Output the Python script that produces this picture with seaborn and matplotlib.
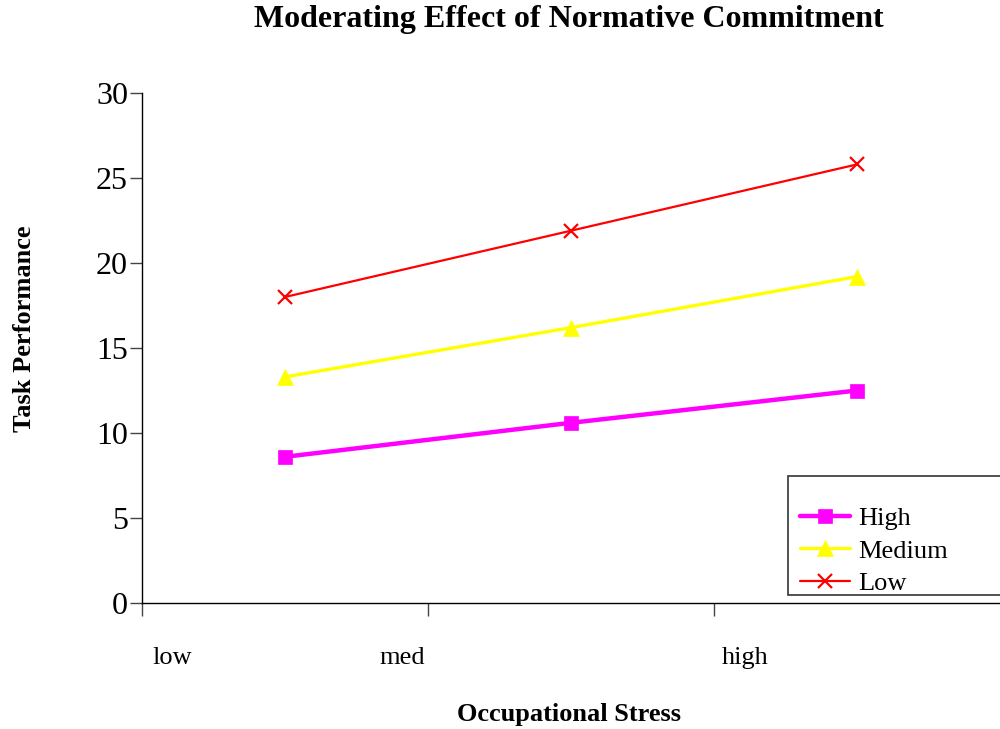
import matplotlib
matplotlib.use("Agg")
import matplotlib.pyplot as plt
from matplotlib.patches import Rectangle
import seaborn as sns
import pandas as pd

# ---- data ----
stress_levels = ["low", "med", "high"]
series_names = ["High", "Medium", "Low"]
high_vals = [8.6, 10.6, 12.5]
medium_vals = [13.3, 16.2, 19.2]
low_vals = [18.0, 21.9, 25.8]
y_ticks = [0, 5, 10, 15, 20, 25, 30]

rows = []
for name, vals in zip(series_names, [high_vals, medium_vals, low_vals]):
    for i, v in enumerate(vals):
        rows.append({"pos": i, "Stress": stress_levels[i], "Commitment": name, "Task Performance": v})
df = pd.DataFrame(rows)

sns.set_theme(style="white")
plt.rcParams["font.family"] = ["Liberation Serif", "DejaVu Serif"]
plt.rcParams["text.color"] = "black"
plt.rcParams["xtick.color"] = "#444444"
plt.rcParams["ytick.color"] = "#444444"
plt.rcParams["xtick.labelcolor"] = "black"
plt.rcParams["ytick.labelcolor"] = "black"

fig = plt.figure(figsize=(10, 7.29), dpi=100)
ax = fig.add_axes([0.142, 1 - 603 / 729, 0.858, (603 - 93) / 729])

colors = {"High": "#FF00FF", "Medium": "#FFFF00", "Low": "#FF0000"}
markers = {"High": "s", "Medium": "^", "Low": "x"}
lws = {"High": 3.2, "Medium": 2.4, "Low": 1.6}
msizes = {"High": 10, "Medium": 11, "Low": 10}

for name in series_names:
    sub = df[df["Commitment"] == name]
    sns.lineplot(data=sub, x="pos", y="Task Performance", ax=ax,
                 color=colors[name], linewidth=lws[name], marker=markers[name],
                 markersize=msizes[name], markeredgecolor=colors[name],
                 markeredgewidth=1.6 if name == "Low" else 0.5,
                 label=name, legend=False)

ax.set_xlim(-0.5, 2.5)
ax.set_ylim(0, 30)
ax.set_yticks(y_ticks)
ax.set_yticklabels([str(t) for t in y_ticks], fontsize=23)
ax.set_xticks([-0.5, 0.5, 1.5])
ax.set_xticklabels([])
ax.tick_params(axis="both", direction="out", length=9, width=1, pad=1,
               left=True, bottom=True)
ax.set_xlabel("")
ax.set_ylabel("")
for s in ["top", "right"]:
    ax.spines[s].set_visible(False)
for s in ["left", "bottom"]:
    ax.spines[s].set_color("black")
    ax.spines[s].set_linewidth(1.0)
ax.grid(False)

# category labels (offset positions as in the original)
label_px = [172, 402, 745]
for lab, px in zip(stress_levels, label_px):
    fig.text(px / 1000, 1 - 658 / 729, lab, fontsize=19, ha="center", va="center")

fig.text(0.569, 1 - 20 / 729, "Moderating Effect of Normative Commitment",
         fontsize=23, fontweight="bold", ha="center", va="center")
fig.text(0.569, 1 - 714 / 729, "Occupational Stress",
         fontsize=19, fontweight="bold", ha="center", va="center")
fig.text(0.025, 1 - 329 / 729, "Task Performance",
         fontsize=19, fontweight="bold", ha="center", va="center", rotation=90)

# legend box
fig.patches.append(Rectangle((788 / 1000, 1 - 595 / 729), 0.25, (595 - 476) / 729,
                             transform=fig.transFigure, facecolor="white",
                             edgecolor="#333333", linewidth=1.2, zorder=5))
handles, labels = ax.get_legend_handles_labels()
leg = fig.legend(handles, labels, loc="upper left",
                 bbox_to_anchor=(800 / 1000, 1 - 507 / 729),
                 frameon=False, fontsize=19, handlelength=1.9,
                 handletextpad=0.3, labelspacing=0.33, borderpad=0.0,
                 borderaxespad=0.0)
leg.set_zorder(6)

fig.savefig("out.png", dpi=100)
